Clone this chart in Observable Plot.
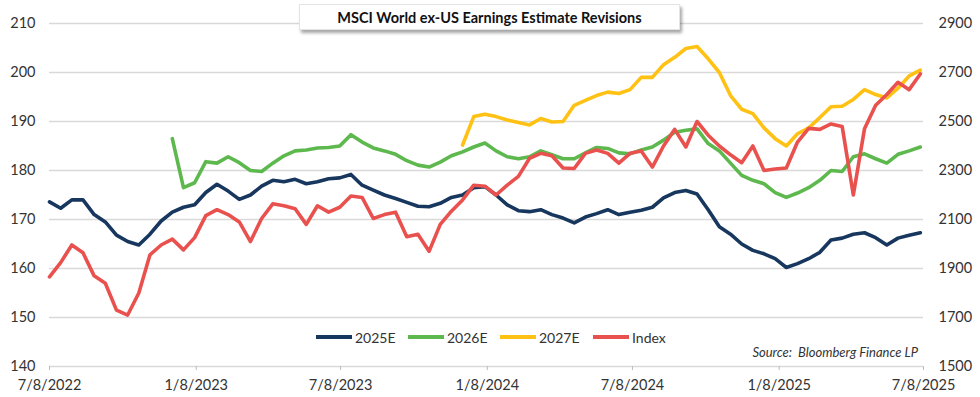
<!DOCTYPE html>
<html><head><meta charset="utf-8">
<script src="https://cdn.jsdelivr.net/npm/d3@7"></script>
<script src="https://cdn.jsdelivr.net/npm/@observablehq/plot@0.6"></script>
<style>
body{margin:0;background:#fff;}
#wrap{position:relative;width:980px;height:397px;font-family:Lato,"Open Sans",sans-serif;color:#333;}
#title{position:absolute;left:299px;top:4px;width:381px;height:26px;box-sizing:border-box;border:1px solid #e4e4e4;background:#fff;box-shadow:2px 3px 3px rgba(0,0,0,0.35);font-weight:bold;font-size:14.5px;text-align:center;line-height:25px;color:#111;z-index:2;}
.leg{position:absolute;top:328px;height:18px;display:flex;align-items:center;font-size:14px;color:#333;}
.leg span.sw{display:inline-block;width:36px;height:3.5px;margin-right:3px;}
#source{position:absolute;right:62px;top:344px;font-size:13px;font-style:italic;color:#333;}
</style></head>
<body>
<div id="wrap">
<div id="chart"></div>
<div id="title">MSCI World ex-US Earnings Estimate Revisions</div>
<div id="legend"></div>
<div id="source">Source:&nbsp; Bloomberg Finance LP</div>
</div>
<script>
const dates = ["2022-07-08","2022-07-22","2022-08-05","2022-08-19","2022-09-02","2022-09-16","2022-09-30","2022-10-14","2022-10-28","2022-11-11","2022-11-25","2022-12-09","2022-12-23",
"2023-01-06","2023-01-20","2023-02-03","2023-02-17","2023-03-03","2023-03-17","2023-03-31","2023-04-14","2023-04-28","2023-05-12","2023-05-26","2023-06-09","2023-06-23","2023-07-07","2023-07-21","2023-08-04","2023-08-18","2023-09-01","2023-09-15","2023-09-29","2023-10-13","2023-10-27","2023-11-10","2023-11-24","2023-12-08","2023-12-22",
"2024-01-05","2024-01-19","2024-02-02","2024-02-16","2024-03-01","2024-03-15","2024-03-29","2024-04-12","2024-04-26","2024-05-10","2024-05-24","2024-06-07","2024-06-21","2024-07-05","2024-07-19","2024-08-02","2024-08-16","2024-08-30","2024-09-13","2024-09-27","2024-10-11","2024-10-25","2024-11-08","2024-11-22","2024-12-06","2024-12-20",
"2025-01-03","2025-01-17","2025-01-31","2025-02-14","2025-02-28","2025-03-14","2025-03-28","2025-04-11","2025-04-25","2025-05-09","2025-05-23","2025-06-06","2025-06-20","2025-07-04"];

const est2025 = [173.6,172.3,174,174,171,169.5,166.8,165.5,164.8,167,
169.7,171.5,172.5,173,175.5,177.2,175.8,174.1,175,176.8,
178,177.7,178.2,177.3,177.7,178.3,178.5,179.2,177,176,
175,174.3,173.5,172.7,172.6,173.3,174.5,175,176.5,176.7,
175,173,171.8,171.6,172,171,170.3,169.3,170.5,171.2,
172,171,171.5,171.9,172.5,174.4,175.5,175.9,175.2,172,
168.5,167,165,163.7,163,162,160.2,161,162,163.3,
165.8,166.2,167,167.3,166.3,164.8,166.2,166.8,167.3];

const est2026 = [null,null,null,null,null,null,null,null,null,null,null,
186.5,176.5,177.5,181.8,181.5,182.8,181.6,180,179.8,181.5,
183,184,184.2,184.6,184.7,185,187.3,185.8,184.6,184,
183.3,182,181.1,180.7,181.7,183,183.8,184.8,185.6,184,
182.8,182.4,182.8,184,183.2,182.4,182.4,183.6,184.7,184.5,
183.6,183.4,184.2,184.8,186.2,187.8,188.2,188.5,185.5,184,
181.5,179,178,177.3,175.5,174.5,175.4,176.5,178,180,
179.8,182.8,183.4,182.4,181.5,183.3,184,184.8];

const est2027 = [null,null,null,null,null,null,null,null,null,null,
null,null,null,null,null,null,null,null,null,null,
null,null,null,null,null,null,null,null,null,null,
null,null,null,null,null,null,null,
185.2,191,191.5,191,
190.3,189.8,189.3,190.6,189.9,190,193.3,194.3,195.3,196,
195.7,196.5,199,199,201.6,203.1,204.9,205.3,202.8,200,
195.3,192.5,191.6,188.7,186.5,185,187.5,188.7,190.8,193,
193.1,194.5,196.5,195.5,194.8,196.8,199.3,200.5];

const indexLevel = [1866,1924,1996,1964,1870,1840,1730,1710,1800,1956,
1996,2020,1976,2026,2116,2140,2120,2090,2010,2104,
2164,2156,2144,2080,2156,2130,2150,2196,2190,2104,
2120,2130,2030,2040,1970,2080,2134,2180,2240,2236,
2200,2240,2276,2350,2370,2360,2310,2308,2370,2384,
2370,2330,2370,2380,2314,2400,2468,2396,2500,2444,
2400,2364,2332,2400,2300,2306,2310,2416,2472,2468,
2490,2480,2200,2470,2566,2610,2660,2630,2694];

const seriesNames = ["2025E","2026E","2027E","Index"];
const seriesColors = ["#17375e","#5db84e","#ffc214","#e9514e"];
const leftTicks = [140,150,160,170,180,190,200,210];
const rightTicks = [1500,1700,1900,2100,2300,2500,2700,2900];
const xTickDates = ["2022-07-08","2023-01-08","2023-07-08","2024-01-08","2024-07-08","2025-01-08","2025-07-08"];

// map right-axis (index) values onto the left-axis scale: 1500..2900 -> 140..210
const toLeft = v => v == null ? null : 140 + (v - 1500) / 20;
const parse = d3.utcParse("%Y-%m-%d");
const fmtDate = d3.utcFormat("%-m/%-d/%Y");

const seriesValues = [est2025, est2026, est2027, indexLevel.map(toLeft)];
const rows = seriesValues.map(vals => dates.map((d, i) => ({date: parse(d), v: vals[i]})));

const chart = Plot.plot({
  width: 980, height: 397,
  marginLeft: 49, marginRight: 57, marginTop: 23, marginBottom: 31,
  style: {fontFamily: "Lato, 'Open Sans', sans-serif", fontSize: "14.5px", color: "#333", background: "#fff"},
  x: {type: "utc", domain: [parse(xTickDates[0]), parse(xTickDates[xTickDates.length - 1])]},
  y: {domain: [140, 210]},
  marks: [
    Plot.ruleY(leftTicks, {stroke: "#d9d9d9", strokeWidth: 1.6}),
    Plot.axisY({anchor: "left", ticks: leftTicks, tickSize: 0, tickPadding: 14, label: null}),
    Plot.axisY({anchor: "right", ticks: rightTicks.map(toLeft), tickSize: 0, tickPadding: 15, label: null,
      tickFormat: d => String(Math.round(1500 + (d - 140) * 20))}),
    Plot.axisX({ticks: xTickDates.map(parse), tickSize: 4, tickPadding: 9, label: null, stroke: "#bbb",
      tickFormat: d => fmtDate(d)}),
    ...rows.map((r, i) => Plot.line(r, {x: "date", y: "v", stroke: seriesColors[i], strokeWidth: 3.6,
      strokeLinejoin: "round", strokeLinecap: "round"}))
  ]
});
document.getElementById("chart").appendChild(chart);

const legendLeft = [316, 408, 500, 593];
const leg = document.getElementById("legend");
seriesNames.forEach((name, i) => {
  const el = document.createElement("div");
  el.className = "leg";
  el.style.left = legendLeft[i] + "px";
  el.innerHTML = `<span class="sw" style="background:${seriesColors[i]}"></span>${name}`;
  leg.appendChild(el);
});
</script>
</body></html>
